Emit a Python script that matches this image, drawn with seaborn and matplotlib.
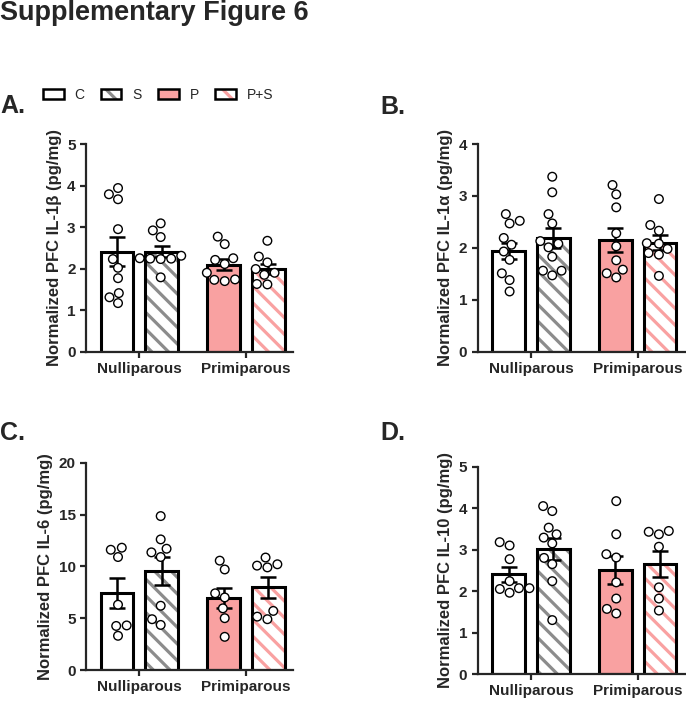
import matplotlib.pyplot as plt
from matplotlib.patches import Patch, Rectangle
from matplotlib.legend_handler import HandlerTuple
import seaborn as sns
import pandas as pd

sns.set_style("ticks")
plt.rcParams["font.family"] = ["Liberation Sans", "DejaVu Sans"]
plt.rcParams["hatch.linewidth"] = 2.3

W, H = 686, 703
PINK = "#f9a1a1"
GRAY = "#8c8c8c"

# groups and how they map onto the two categorical axes
groups = ["C", "S", "P", "P+S"]
parity_levels = ["Nulliparous", "Primiparous"]
treat_levels = ["Control", "Stress"]
group_parity = ["Nulliparous", "Nulliparous", "Primiparous", "Primiparous"]
group_treat = ["Control", "Stress", "Control", "Stress"]

# A. IL-1beta
il1b_mean = [2.41, 2.41, 2.09, 1.99]
il1b_sem = [0.34, 0.14, 0.13, 0.13]
il1b_pts = [
    [3.94, 3.67, 3.79, 2.95, 2.23, 2.02, 1.77, 1.41, 1.31, 1.17],
    [3.09, 2.92, 2.76, 2.31, 2.25, 2.24, 2.23, 2.24, 1.79],
    [2.77, 2.59, 2.21, 2.25, 2.11, 1.90, 1.70, 1.74, 1.73],
    [2.67, 2.29, 2.15, 1.99, 1.90, 1.85, 1.62, 1.63],
]

# B. IL-1alpha
il1a_mean = [1.94, 2.19, 2.15, 2.10]
il1a_sem = [0.16, 0.19, 0.23, 0.15]
il1a_pts = [
    [2.65, 2.47, 2.52, 2.19, 2.06, 1.93, 1.77, 1.51, 1.38, 1.16],
    [3.37, 3.07, 2.65, 2.47, 2.13, 2.01, 2.08, 1.83, 1.47, 1.56, 1.56],
    [3.21, 3.03, 2.78, 2.28, 2.03, 1.76, 1.58, 1.43, 1.51],
    [2.94, 2.44, 2.33, 2.09, 2.08, 1.98, 1.87, 1.90, 1.46],
]

# C. IL-6
il6_mean = [7.40, 9.55, 6.91, 7.97]
il6_sem = [1.45, 1.35, 0.97, 1.03]
il6_pts = [
    [11.8, 10.9, 11.6, 6.3, 4.3, 4.25, 3.3],
    [14.85, 12.6, 11.35, 11.7, 10.9, 6.2, 4.35, 4.9],
    [10.55, 9.7, 7.4, 7.0, 5.95, 5.0, 3.2],
    [10.07, 10.2, 10.85, 9.9, 5.7, 4.9, 5.15],
]

# D. IL-10
il10_mean = [2.40, 3.01, 2.51, 2.65]
il10_sem = [0.19, 0.27, 0.34, 0.32]
il10_pts = [
    [3.10, 3.18, 2.77, 2.24, 1.96, 2.07, 2.07, 2.05],
    [4.05, 3.93, 3.53, 3.29, 3.37, 3.15, 2.80, 2.65, 2.24, 1.30],
    [4.17, 3.37, 2.89, 2.81, 2.21, 1.82, 1.57, 1.46],
    [3.37, 3.45, 3.43, 3.07, 2.09, 1.82, 1.53],
]

# face colour, hatch, hatch colour
STYLE = {
    "C": ("white", None, "none"),
    "S": ("white", "\\\\", GRAY),
    "P": (PINK, None, "none"),
    "P+S": ("white", "\\\\", PINK),
}


def px_box(x0, y_top, x1, y_bottom):
    return [x0 / W, 1 - y_bottom / H, (x1 - x0) / W, (y_bottom - y_top) / H]


def draw_panel(ax, means, sems, points, ymax, ystep, ylabel):
    bars = pd.DataFrame({"parity": group_parity, "treat": group_treat, "mean": means})
    sns.barplot(
        data=bars, x="parity", y="mean", hue="treat",
        order=parity_levels, hue_order=treat_levels,
        width=0.84, gap=0.27, errorbar=None, legend=False, ax=ax,
    )
    patches = sorted(ax.patches, key=lambda p: p.get_x())
    for g, p in zip(groups, patches):
        face, hatch, hcol = STYLE[g]
        p.set_facecolor(face)
        p.set_edgecolor(hcol)
        p.set_hatch(hatch)
        p.set_linewidth(0)
        # black outline drawn separately so the hatch can keep its own colour
        ax.add_patch(Rectangle((p.get_x(), 0), p.get_width(), p.get_height(),
                               fill=False, ec="black", lw=2.2, zorder=2.5))
    centers = [p.get_x() + p.get_width() / 2 for p in patches]
    ax.errorbar(centers, means, yerr=sems, fmt="none", ecolor="black",
                elinewidth=1.8, capsize=5.8, capthick=1.8, zorder=3)

    rows = []
    for par, tr, vals in zip(group_parity, group_treat, points):
        for v in vals:
            rows.append({"parity": par, "treat": tr, "value": v})
    pts = pd.DataFrame(rows)
    sns.swarmplot(
        data=pts, x="parity", y="value", hue="treat",
        order=parity_levels, hue_order=treat_levels, dodge=True,
        palette=["white", "white"], edgecolor="black", linewidth=1.0,
        size=6.2, legend=False, ax=ax, zorder=4,
    )

    ax.set_xlim(-0.5, 1.44)
    ax.set_ylim(0, ymax)
    ax.set_yticks(range(0, ymax + 1, ystep))
    ax.set_xlabel("")
    ax.set_ylabel(ylabel, fontsize=12, fontweight="bold", labelpad=4)
    sns.despine(ax=ax)
    for s in ["left", "bottom"]:
        ax.spines[s].set_linewidth(1.6)
    ax.tick_params(axis="both", length=4.5, width=1.6, labelsize=11, pad=3)
    for lbl in ax.get_xticklabels() + ax.get_yticklabels():
        lbl.set_fontweight("bold")


fig = plt.figure(figsize=(W / 100, H / 100), dpi=100)

axA = fig.add_axes(px_box(86, 144, 293, 351.7))
axB = fig.add_axes(px_box(477.6, 144, 684.5, 351.7))
axC = fig.add_axes(px_box(86, 462.7, 293, 670))
axD = fig.add_axes(px_box(477.6, 466.7, 684.5, 674))

draw_panel(axA, il1b_mean, il1b_sem, il1b_pts, 5, 1, "Normalized PFC IL-1β (pg/mg)")
draw_panel(axB, il1a_mean, il1a_sem, il1a_pts, 4, 1, "Normalized PFC IL-1α (pg/mg)")
draw_panel(axC, il6_mean, il6_sem, il6_pts, 20, 5, "Normalized PFC IL-6 (pg/mg)")
draw_panel(axD, il10_mean, il10_sem, il10_pts, 5, 1, "Normalized PFC IL-10 (pg/mg)")

fig.text(0.0, 1 - 20 / H, "Supplementary Figure 6", fontsize=19.5,
         fontweight="bold", va="baseline", ha="left")
for letter, x, y in [("A.", 0, 113), ("B.", 380, 114), ("C.", 0, 440), ("D.", 380, 440)]:
    fig.text(x / W, 1 - y / H, letter, fontsize=18, fontweight="bold",
             va="baseline", ha="left")

# legend: filled/hatched patch with a separate black outline
handles = []
for g in groups:
    face, hatch, hcol = STYLE[g]
    fillp = Patch(facecolor=face, edgecolor=hcol, hatch=hatch, lw=0)
    edge = Patch(fill=False, edgecolor="black", lw=1.8)
    handles.append((fillp, edge))
fig.legend(
    handles, groups, handler_map={tuple: HandlerTuple(ndivide=1, pad=0)},
    loc="center left", bbox_to_anchor=(42.7 / W, 1 - 95 / H), ncol=4,
    frameon=False, fontsize=10, handlelength=1.5, handleheight=0.65,
    handletextpad=0.8, columnspacing=1.15, borderpad=0, borderaxespad=0,
)

fig.savefig("out.png", dpi=100)
